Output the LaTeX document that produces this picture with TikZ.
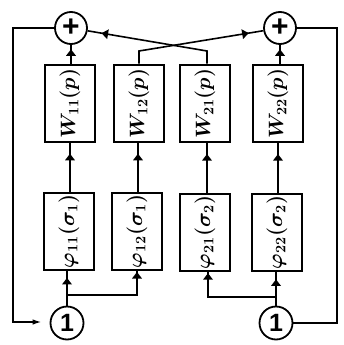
\documentclass[tikz,border=0pt]{standalone}
\usepackage{fontspec}
\newfontfamily\markfont{Liberation Sans}
\usetikzlibrary{arrows.meta,shapes.geometric}
\tikzset{
  wire/.style={line width=1.6pt},
  blockbox/.style={draw, line width=2.6pt, minimum width=50pt, minimum height=77pt,
    inner sep=0pt, font=\fontsize{20}{22}\selectfont\boldmath},
  sumnode/.style={draw, circle, line width=1.8pt, minimum size=32pt, inner sep=0pt,
    font=\fontsize{30}{30}\selectfont\markfont\bfseries},
  srcnode/.style={draw, circle, line width=1.8pt, minimum size=33pt, inner sep=0pt,
    font=\fontsize{25}{25}\selectfont\markfont\bfseries},
  ahead/.style={sloped, allow upside down, fill, draw=none, isosceles triangle,
    isosceles triangle stretches, inner sep=0pt, minimum width=10pt, minimum height=6.5pt}
}
\begin{document}
\begin{tikzpicture}[x=1pt,y=-1pt]
  \useasboundingbox (0,0) rectangle (343,345);
  \fill[white] (0,0) rectangle (343,345);

  % summing junctions and input sources
  \node[sumnode] (sumL) at (71,28) {\raisebox{1.5pt}{+}};
  \node[sumnode] (sumR) at (280,28) {\raisebox{1.5pt}{+}};
  \node[srcnode] (inL) at (67,323) {1};
  \node[srcnode] (inR) at (276,323) {1};

  % transfer-function blocks
  \node[blockbox] (W11) at (70,103.5) {\rotatebox{90}{$W_{11}(p)$}};
  \node[blockbox] (W12) at (139,103.5) {\rotatebox{90}{$W_{12}(p)$}};
  \node[blockbox] (W21) at (205,103.5) {\rotatebox{90}{$W_{21}(p)$}};
  \node[blockbox] (W22) at (278,103.5) {\rotatebox{90}{$W_{22}(p)$}};

  % nonlinear blocks
  \node[blockbox] (F11) at (69,231.5) {\rotatebox{90}{$\varphi_{11}(\sigma_1)$}};
  \node[blockbox] (F12) at (137,231.5) {\rotatebox{90}{$\varphi_{12}(\sigma_1)$}};
  \node[blockbox] (F21) at (205,232.5) {\rotatebox{90}{$\varphi_{21}(\sigma_2)$}};
  \node[blockbox] (F22) at (277,232.5) {\rotatebox{90}{$\varphi_{22}(\sigma_2)$}};

  % corner points of the cross connection
  \coordinate (k12) at (139,51);
  \coordinate (k21) at (207,51);
  % branch points below the nonlinear blocks
  \coordinate (jL) at (67,295);
  \coordinate (jR) at (276,297);
  % feedback corners
  \coordinate (fL1) at (13,28);
  \coordinate (fL2) at (13,322);
  \coordinate (fR1) at (337,28);
  \coordinate (fR2) at (337,323);

  % blocks into the summing junctions
  \draw[wire] (sumL.south |- W11.north) -- node[ahead, pos=0.55] (a1) {} (sumL.south);
  \draw[wire] (sumR.south |- W22.north) -- node[ahead, pos=0.55] (a2) {} (sumR.south);
  \draw[wire] (W12.north) -- (k12) -- node[ahead, pos=0.85] (a3) {} (sumR);
  \draw[wire] (W21.north -| k21) -- (k21) -- node[ahead, pos=0.85] (a4) {} (sumL);

  % nonlinear blocks into transfer-function blocks
  \draw[wire] (W11.south |- F11.north) -- node[ahead, pos=0.7] (a5) {} (W11.south);
  \draw[wire] (F12.north -| 138,0) -- node[ahead, pos=0.7] (a6) {} (W12.south -| 138,0);
  \draw[wire] (F21.north -| 207,0) -- node[ahead, pos=0.7] (a7) {} (W21.south -| 207,0);
  \draw[wire] (F22.north -| 278,0) -- node[ahead, pos=0.7] (a8) {} (W22.south -| 278,0);

  % inputs fanned out to the nonlinear blocks
  \draw[wire] (inL.north) -- (jL);
  \draw[wire] (jL) -- node[ahead, pos=0.55] (a9) {} (jL |- F11.south);
  \draw[wire] (jL) -| (F12.south) node[ahead, pos=0.9] (a10) {};
  \draw[wire] (inR.north) -- (jR);
  \draw[wire] (jR) -- node[ahead, pos=0.55] (a11) {} (jR |- F22.south);
  \draw[wire] (jR) -| (F21.south -| 208,0) node[ahead, pos=0.9] (a12) {};

  % outer feedback loops
  \draw[wire, -{Latex[length=9pt,width=5.5pt]}, shorten >=8pt]
    (sumL.west) -- (fL1) -- (fL2) -- (inL.west |- fL2);
  \draw[wire] (sumR.east) -- (fR1) -- (fR2) -- (inR.east);
\end{tikzpicture}
\end{document}
